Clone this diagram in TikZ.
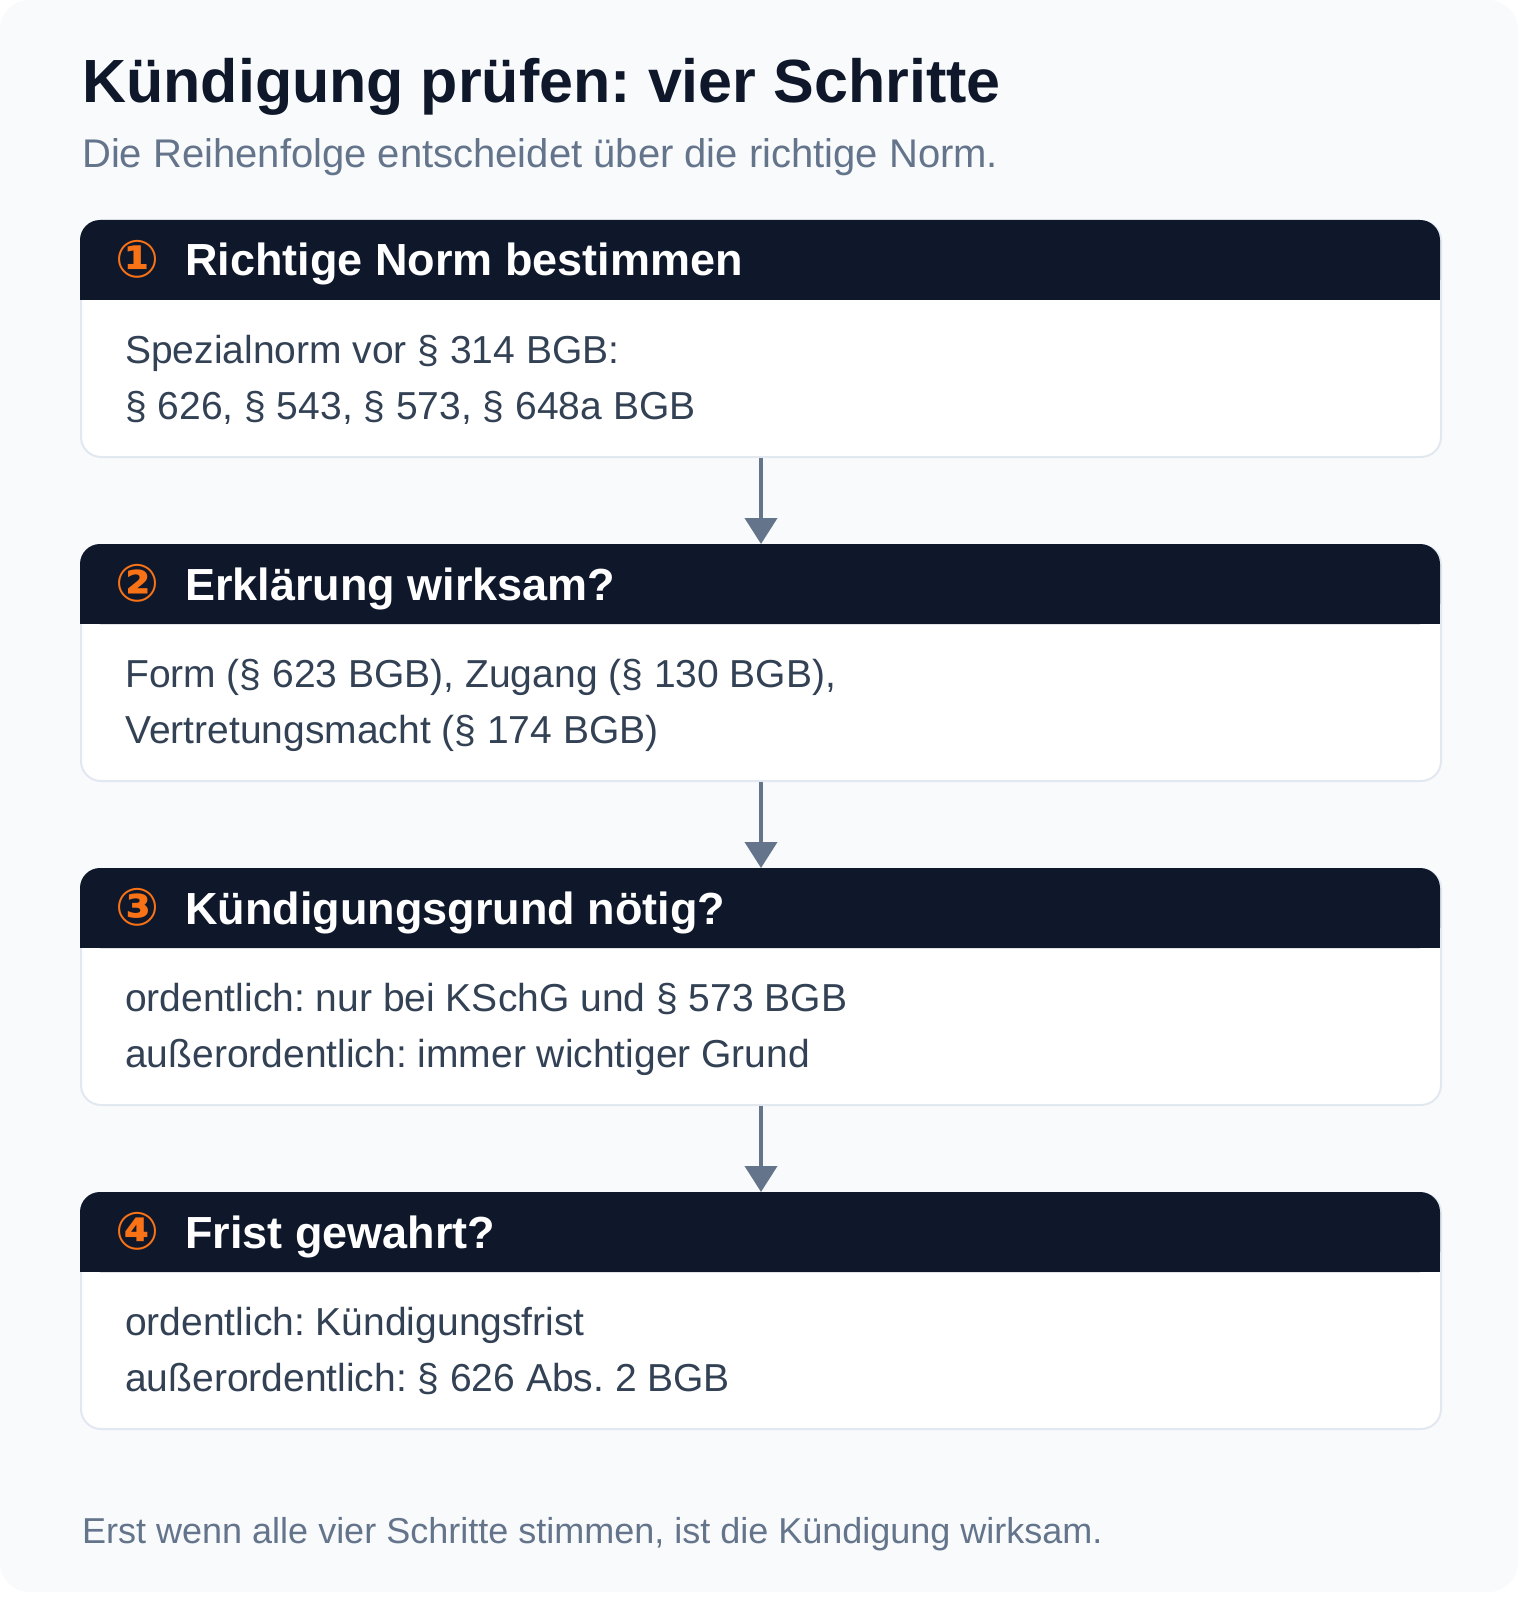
\documentclass[tikz,border=0pt]{standalone}
\usepackage{fontspec}
\setmainfont{Liberation Sans}
\newfontfamily\circfont{DejaVu Sans}
\usepackage{tikz}
\usetikzlibrary{calc,arrows.meta}
\frenchspacing

\definecolor{pagebg}{HTML}{F8FAFC}
\definecolor{navy}{HTML}{0F172A}
\definecolor{slate}{HTML}{334155}
\definecolor{muted}{HTML}{64748B}
\definecolor{rule}{HTML}{E2E8F0}
\definecolor{accent}{HTML}{F97316}

\begin{document}
\begin{tikzpicture}[x=1pt,y=-1pt,
  card/.style={draw=rule,line width=2pt,fill=white,rounded corners=20pt,anchor=north west,minimum width=1360pt,minimum height=236pt,inner sep=0pt},
  headtxt/.style={anchor=base west,inner sep=0pt,text=white,font=\fontsize{45}{54}\selectfont\bfseries},
  numtxt/.style={inner sep=0pt,text=accent,font=\fontsize{52}{60}\circfont\bfseries},
  bodytxt/.style={anchor=base west,inner sep=0pt,text=slate,font=\fontsize{39}{56}\selectfont},
  flow/.style={draw=muted,line width=4pt,-{Triangle[length=26pt,width=32pt]}}]
\useasboundingbox (0,0) rectangle (1520,1602);
\fill[white] (0,0) rectangle (1520,1602);
\fill[pagebg,rounded corners=30pt] (0,0) rectangle (1518,1592);
% title
\node[anchor=base west,inner sep=0pt,text=navy,font=\fontsize{61}{70}\selectfont\bfseries] (title) at (82,103) {Kündigung prüfen: vier Schritte};
\node[anchor=base west,inner sep=0pt,text=muted,font=\fontsize{40}{48}\selectfont] (subtitle) at (82,168) {Die Reihenfolge entscheidet über die richtige Norm.};
% step 1
\node[card] (card1) at (80,220) {};
\fill[navy,rounded corners=20pt] (card1.north west) rectangle ++(1360,80);
\fill[navy] ([yshift=-40pt]card1.north west) rectangle ++(1360,40);
\node[numtxt] (num1) at (138,259) {①};
\node[headtxt] (head1) at (185,276) {Richtige Norm bestimmen};
\node[bodytxt] (body1a) at (125,363) {Spezialnorm vor § 314 BGB:};
\node[bodytxt] (body1b) at (125,419) {§ 626, § 543, § 573, § 648a BGB};
% step 2
\node[card] (card2) at (80,544) {};
\fill[navy,rounded corners=20pt] (card2.north west) rectangle ++(1360,80);
\fill[navy] ([yshift=-40pt]card2.north west) rectangle ++(1360,40);
\node[numtxt] (num2) at (138,583) {②};
\node[headtxt] (head2) at (185,600) {Erklärung wirksam?};
\node[bodytxt] (body2a) at (125,687) {Form (§ 623 BGB), Zugang (§ 130 BGB),};
\node[bodytxt] (body2b) at (125,743) {Vertretungsmacht (§ 174 BGB)};
% step 3
\node[card] (card3) at (80,868) {};
\fill[navy,rounded corners=20pt] (card3.north west) rectangle ++(1360,80);
\fill[navy] ([yshift=-40pt]card3.north west) rectangle ++(1360,40);
\node[numtxt] (num3) at (138,907) {③};
\node[headtxt] (head3) at (185,924) {Kündigungsgrund nötig?};
\node[bodytxt] (body3a) at (125,1011) {ordentlich: nur bei KSchG und § 573 BGB};
\node[bodytxt] (body3b) at (125,1067) {außerordentlich: immer wichtiger Grund};
% step 4
\node[card] (card4) at (80,1192) {};
\fill[navy,rounded corners=20pt] (card4.north west) rectangle ++(1360,80);
\fill[navy] ([yshift=-40pt]card4.north west) rectangle ++(1360,40);
\node[numtxt] (num4) at (138,1231) {④};
\node[headtxt] (head4) at (185,1248) {Frist gewahrt?};
\node[bodytxt] (body4a) at (125,1335) {ordentlich: Kündigungsfrist};
\node[bodytxt] (body4b) at (125,1391) {außerordentlich: § 626 Abs. 2 BGB};
% arrows
\draw[flow] (card1.south) -- (card2.north);
\draw[flow] (card2.south) -- (card3.north);
\draw[flow] (card3.south) -- (card4.north);
% footer
\node[anchor=base west,inner sep=0pt,text=muted,font=\fontsize{36}{44}\selectfont] (footer) at (82,1543) {Erst wenn alle vier Schritte stimmen, ist die Kündigung wirksam.};
\end{tikzpicture}
\end{document}
